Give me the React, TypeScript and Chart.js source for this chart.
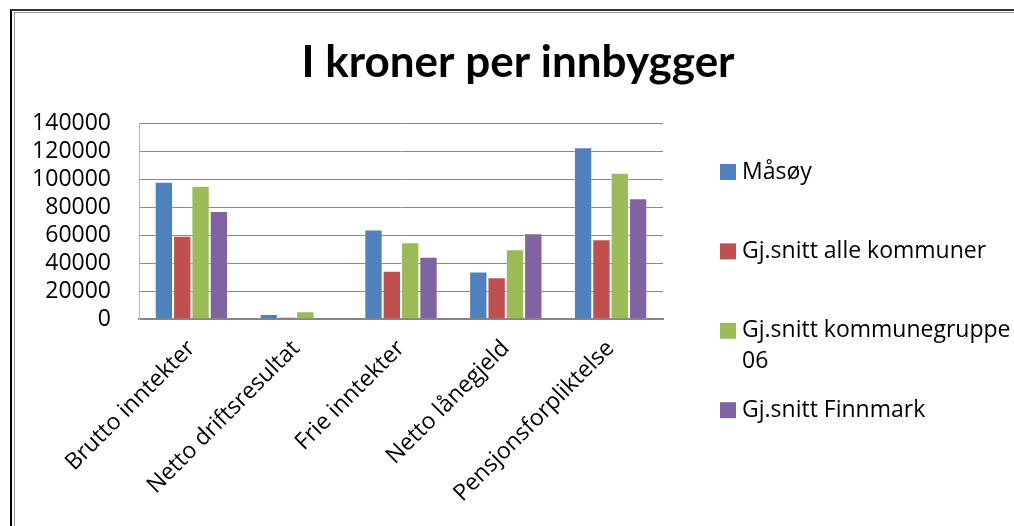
import React, { useEffect, useRef } from "react";
import { Chart, registerables } from "chart.js";

Chart.register(...registerables);

const TITLE = "I kroner per innbygger";
const categories = [
  "Brutto inntekter",
  "Netto driftsresultat",
  "Frie inntekter",
  "Netto lånegjeld",
  "Pensjonsforpliktelse",
];
const seriesNames = [
  "Måsøy",
  "Gj.snitt alle kommuner",
  "Gj.snitt kommunegruppe 06",
  "Gj.snitt Finnmark",
];
const masoy = [98000, 3600, 64000, 34000, 122600];
const alleKommuner = [59500, 1500, 34500, 29800, 56900];
const kommunegruppe06 = [95200, 5600, 54800, 49800, 104500];
const finnmark = [77100, 0, 44500, 61200, 86200];
const colors = ["#4F81BD", "#C0504D", "#9BBB59", "#8064A2"];
const yMax = 140000;
const yStep = 20000;

const TITLE_FONT = "Lato, 'Open Sans', sans-serif";
const FONT = "'Open Sans', Lato, sans-serif";
const FS = 23;

const overlayPlugin = {
  id: "overlay",
  afterDraw(chart: any) {
    const ctx = chart.ctx;
    const area = chart.chartArea;
    ctx.save();
    // title
    ctx.fillStyle = "#000";
    ctx.font = `bold 44px ${TITLE_FONT}`;
    ctx.textAlign = "center";
    ctx.textBaseline = "alphabetic";
    ctx.fillText(TITLE, 518, 77);
    // legend
    ctx.font = `${FS}px ${FONT}`;
    ctx.textAlign = "left";
    ctx.textBaseline = "middle";
    const boxX = area.right + 57;
    const textX = boxX + 22;
    const maxW = chart.width - textX + 6;
    const firstY = 172;
    const stepY = 79.4;
    const lineH = 31;
    chart.data.datasets.forEach((ds: any, i: number) => {
      const y = firstY + i * stepY;
      ctx.fillStyle = ds.backgroundColor;
      ctx.fillRect(boxX, y - 8, 16, 16);
      ctx.fillStyle = "#000";
      const words = String(ds.label).split(" ");
      const lines: string[] = [];
      let cur = "";
      words.forEach((w) => {
        const test = cur ? cur + " " + w : w;
        if (cur && ctx.measureText(test).width > maxW) {
          lines.push(cur);
          cur = w;
        } else cur = test;
      });
      if (cur) lines.push(cur);
      lines.forEach((ln, k) => ctx.fillText(ln, textX, y + k * lineH));
    });
    ctx.restore();
  },
};

export default function App() {
  const ref = useRef<HTMLCanvasElement | null>(null);
  useEffect(() => {
    if (!ref.current) return;
    const data = [masoy, alleKommuner, kommunegruppe06, finnmark];
    const chart = new Chart(ref.current, {
      type: "bar",
      data: {
        labels: categories,
        datasets: data.map((d, i) => ({
          label: seriesNames[i],
          data: d,
          backgroundColor: colors[i],
          borderColor: "rgba(255,255,255,0.35)",
          borderWidth: 1,
          categoryPercentage: 0.7,
          barPercentage: 1.0,
        })),
      },
      options: {
        animation: false,
        responsive: false,
        maintainAspectRatio: false,
        layout: { padding: { top: 123, left: 0, right: 351, bottom: 0 } },
        plugins: {
          legend: { display: false },
          title: { display: false },
          tooltip: { enabled: false },
        },
        scales: {
          x: {
            grid: { display: false, drawTicks: false },
            border: { display: true, color: "#868686", width: 2 },
            ticks: {
              color: "#000",
              font: { family: FONT, size: FS },
              maxRotation: 45,
              minRotation: 45,
              autoSkip: false,
              padding: 16,
            },
            afterFit(scale: any) {
              scale.height = 207;
            },
          },
          y: {
            min: 0,
            max: yMax,
            grid: { color: "#8a8a8a", lineWidth: 1, drawTicks: false },
            border: { display: true, color: "#b8b8b8", width: 1 },
            ticks: {
              stepSize: yStep,
              autoSkip: false,
              color: "#000",
              font: { family: FONT, size: FS },
              padding: 28,
              callback: (v: any) => String(v),
            },
            afterFit(scale: any) {
              scale.width = 139;
            },
          },
        },
      },
      plugins: [overlayPlugin],
    });
    return () => chart.destroy();
  }, []);

  return (
    <div style={{ position: "fixed", left: 0, top: 0, width: 1014, height: 526, background: "#fff", overflow: "hidden" }}>
      <div
        style={{
          position: "absolute",
          left: 10,
          top: 9,
          width: 1100,
          height: 600,
          borderLeft: "2px solid #000",
          borderTop: "2px solid #333",
        }}
      />
      <div
        style={{
          position: "absolute",
          left: 14,
          top: 12,
          width: 1100,
          height: 600,
          borderLeft: "1px solid #9a9a9a",
          borderTop: "1px solid #9a9a9a",
        }}
      />
      <canvas ref={ref} width={1014} height={526} style={{ position: "absolute", left: 0, top: 0 }} />
    </div>
  );
}
